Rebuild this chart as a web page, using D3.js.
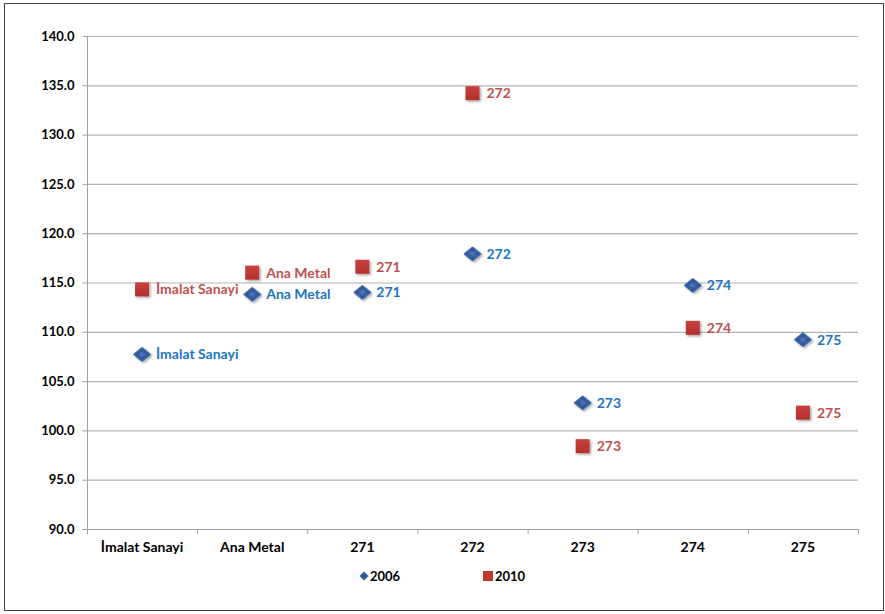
<!DOCTYPE html>
<html><head><meta charset="utf-8">
<script src="https://cdn.jsdelivr.net/npm/d3@7"></script>
<style>body{margin:0;background:#fff}svg{display:block}</style>
</head><body><div id="c"></div>
<script>
const categories = ["İmalat Sanayi","Ana Metal","271","272","273","274","275"];
const series2006 = [107.7,113.8,114.0,117.9,102.8,114.7,109.2];
const series2010 = [114.3,116.0,116.6,134.2,98.4,110.4,101.8];
const yTicks = [90,95,100,105,110,115,120,125,130,135,140];
const seriesNames = ["2006","2010"];

const W=885,H=614;
const svg=d3.select("#c").append("svg").attr("width",W).attr("height",H);
const defs=svg.append("defs");
const f=defs.append("filter").attr("id","sh").attr("x","-50%").attr("y","-50%").attr("width","200%").attr("height","200%");
f.append("feDropShadow").attr("dx",1.5).attr("dy",1.5).attr("stdDeviation",1.2).attr("flood-color","#000").attr("flood-opacity",0.35);
const gb=defs.append("radialGradient").attr("id","gb");
gb.append("stop").attr("offset","0%").attr("stop-color","#4f7bc0");
gb.append("stop").attr("offset","100%").attr("stop-color","#1f3f7a");
const gr=defs.append("linearGradient").attr("id","gr").attr("x1",0).attr("y1",0).attr("x2",0).attr("y2",1);
gr.append("stop").attr("offset","0%").attr("stop-color","#c9403c");
gr.append("stop").attr("offset","100%").attr("stop-color","#b3302d");

svg.append("rect").attr("x",4.5).attr("y",3.5).attr("width",879).attr("height",607).attr("fill","#fff").attr("stroke","#404040").attr("stroke-width",1);

const L=87,R=858,T=36,B=529;
const x=d3.scaleBand().domain(categories).range([L,R]);
const y=d3.scaleLinear().domain([90,140]).range([B,T]);
const font="Lato, 'Open Sans', sans-serif";

// gridlines
svg.append("g").selectAll("line").data(yTicks.filter(d=>d>90)).join("line")
 .attr("x1",L).attr("x2",R).attr("y1",d=>y(d)+0.5).attr("y2",d=>y(d)+0.5)
 .attr("stroke","#b4b4b4").attr("stroke-width",1.2);

// y axis
const ya=svg.append("g").attr("transform",`translate(${L+0.5},0)`)
 .call(d3.axisLeft(y).tickValues(yTicks).tickFormat(d3.format(".1f")).tickSize(5).tickPadding(8));
ya.select(".domain").attr("stroke","#a0a0a0").attr("d",`M0,${T}V${B}`);
ya.selectAll(".tick line").attr("stroke","#a0a0a0");
ya.selectAll(".tick text").attr("font-family",font).attr("font-weight","bold").attr("font-size","13px").attr("fill","#000");

// x axis
const xa=svg.append("g").attr("transform",`translate(0,${B+0.5})`)
 .call(d3.axisBottom(x).tickSize(0).tickPadding(13));
xa.select(".domain").attr("stroke","#a0a0a0").attr("d",`M${L},0H${R}`);
xa.selectAll(".tick text").attr("font-family",font).attr("font-weight","bold").attr("font-size","14px").attr("fill","#000");
svg.append("g").selectAll("line").data(d3.range(categories.length+1)).join("line")
 .attr("x1",i=>L+i*x.step()+0.5).attr("x2",i=>L+i*x.step()+0.5).attr("y1",B).attr("y2",B+5)
 .attr("stroke","#a0a0a0");

const cx=c=>x(c)+x.bandwidth()/2;
const diamond="M0,-6.5L8,0L0,6.5L-8,0Z";

// series 2006
const g6=svg.append("g");
g6.selectAll("path").data(categories).join("path")
 .attr("d",diamond).attr("transform",(c,i)=>`translate(${cx(c)},${y(series2006[i])})`)
 .attr("fill","url(#gb)").attr("stroke","#3a66a8").attr("stroke-width",1.6).attr("stroke-linejoin","round").attr("filter","url(#sh)");
g6.selectAll("text").data(categories).join("text")
 .attr("x",c=>cx(c)+14).attr("y",(c,i)=>y(series2006[i])+5)
 .text(c=>c).attr("font-family",font).attr("font-weight","bold").attr("font-size","14px").attr("fill","#1b75c4");

// series 2010
const g10=svg.append("g");
g10.selectAll("rect").data(categories).join("rect")
 .attr("x",c=>cx(c)-7).attr("y",(c,i)=>y(series2010[i])-7).attr("width",14).attr("height",14)
 .attr("fill","url(#gr)").attr("filter","url(#sh)");
g10.selectAll("text").data(categories).join("text")
 .attr("x",c=>cx(c)+14).attr("y",(c,i)=>y(series2010[i])+5)
 .text(c=>c).attr("font-family",font).attr("font-weight","bold").attr("font-size","14px").attr("fill","#c0504d");

// legend
const lg=svg.append("g");
lg.append("path").attr("d","M0,-4.5L4.5,0L0,4.5L-4.5,0Z").attr("transform","translate(364,576)").attr("fill","#2e5a9a");
lg.append("text").attr("x",370).attr("y",581).text(seriesNames[0]).attr("font-family",font).attr("font-weight","bold").attr("font-size","13px");
lg.append("rect").attr("x",483).attr("y",571).attr("width",10).attr("height",10).attr("fill","#c0392b");
lg.append("text").attr("x",495).attr("y",581).text(seriesNames[1]).attr("font-family",font).attr("font-weight","bold").attr("font-size","13px");
</script></body></html>
